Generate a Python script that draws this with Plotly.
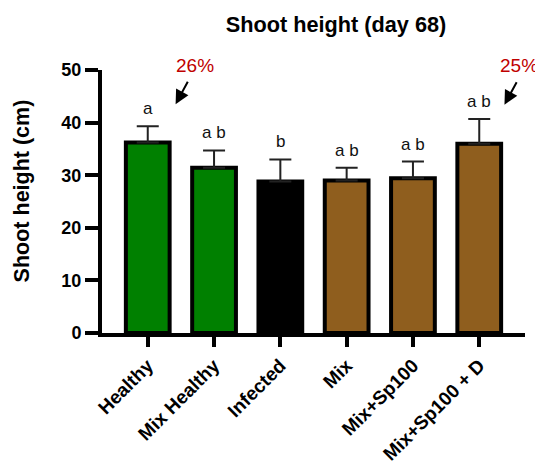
import plotly.graph_objects as go

categories = ["Healthy", "Mix Healthy", "Infected", "Mix", "Mix+Sp100", "Mix+Sp100 + D"]
means = [36.2, 31.4, 28.8, 29.0, 29.4, 36.0]
errors = [3.1, 3.3, 4.2, 2.4, 3.2, 4.7]
letters = ["a", "a b", "b", "a b", "a b", "a b"]
colors = ["#008000", "#008000", "#000000", "#8F5E1E", "#8F5E1E", "#8F5E1E"]
pct_labels = ["26%", "25%"]
pct_text_x = [0.221, 0.985]
arrow_tip_x = [0.42, 5.38]
arrow_tip_y = [43.5, 43.4]

FONT = "Arial, Liberation Sans, sans-serif"
x = list(range(len(categories)))

fig = go.Figure()
fig.add_trace(go.Bar(
    x=x, y=means, width=0.66,
    marker=dict(color=colors, line=dict(color="black", width=4)),
    error_y=dict(type="data", array=errors, arrayminus=[0] * len(errors),
                 symmetric=False, color="#222222", thickness=2, width=11),
    showlegend=False,
))

annotations = []
for i, (m, e, t) in enumerate(zip(means, errors, letters)):
    annotations.append(dict(x=i, y=m + e, text=t, showarrow=False, yanchor="bottom",
                            xanchor="center", yshift=6,
                            font=dict(family=FONT, size=17, color="#111111")))

for lab, tx, ax_, ay_ in zip(pct_labels, pct_text_x, arrow_tip_x, arrow_tip_y):
    annotations.append(dict(x=ax_, y=ay_, ax=13, ay=-24,
                            axref="pixel", ayref="pixel", text="", showarrow=True,
                            arrowhead=2, arrowsize=1.4, arrowwidth=2, arrowcolor="black"))
    annotations.append(dict(xref="paper", yref="paper", x=tx, y=1.018, text=lab,
                            xanchor="center", yanchor="middle", showarrow=False,
                            font=dict(family=FONT, size=19, color="#C00000")))

annotations.append(dict(xref="paper", yref="paper", x=(22 - 102) / 425, y=(333 - 191) / 263,
                        xanchor="center", yanchor="middle",
                        text="<b>Shoot height (cm)</b>", textangle=-90, showarrow=False,
                        font=dict(family=FONT, size=21.5, color="black")))

# page body has an 8px default margin; compensate so the plot lands where the reference has it
fig.update_layout(
    width=535, height=456,
    margin=dict(l=94, r=18, t=62, b=131),
    plot_bgcolor="white", paper_bgcolor="white",
    title=dict(text="<b>Shoot height (day 68)</b>", x=328 / 535, xanchor="center",
               y=1 - 16 / 456, yanchor="middle",
               font=dict(family=FONT, size=21.7, color="black")),
    annotations=annotations,
)
fig.update_xaxes(
    range=[-0.69, 5.69], tickmode="array", tickvals=x,
    ticktext=[f"<b>{c}</b>" for c in categories], tickangle=-45,
    showline=True, linecolor="black", linewidth=4,
    ticks="outside", ticklen=10, tickwidth=4, tickcolor="black",
    tickfont=dict(family=FONT, size=19, color="black"), showgrid=False, zeroline=False,
    automargin=False,
)
fig.update_yaxes(
    range=[0, 50], tickvals=[0, 10, 20, 30, 40, 50],
    ticktext=["<b>0</b>", "<b>10</b>", "<b>20</b>", "<b>30</b>", "<b>40</b>", "<b>50</b>"],
    showline=True, linecolor="black", linewidth=4,
    ticks="outside", ticklen=13, tickwidth=4, tickcolor="black",
    tickfont=dict(family=FONT, size=18, color="black"), showgrid=False, zeroline=False,
    automargin=False,
)
fig.write_html("out.html")
